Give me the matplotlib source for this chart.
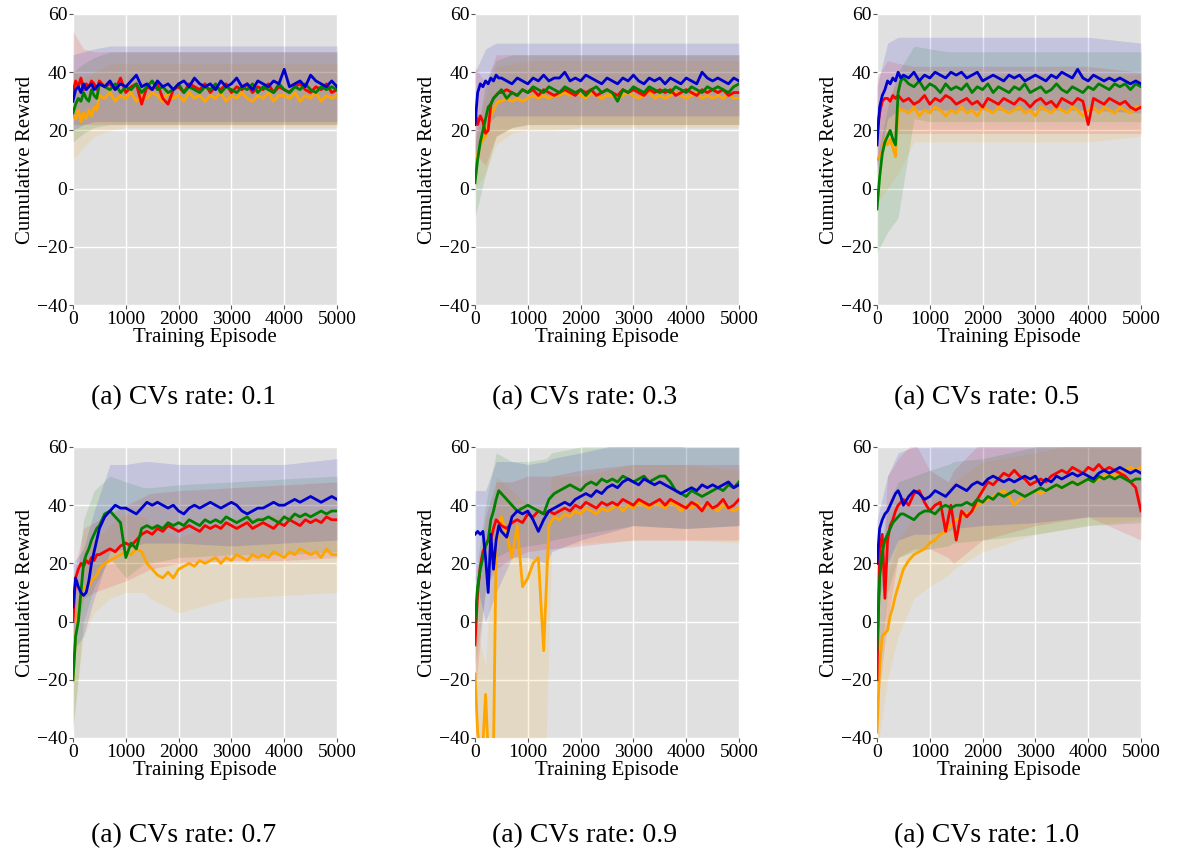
import matplotlib
matplotlib.use("Agg")
import matplotlib.pyplot as plt

plt.rcParams['font.family'] = ['Liberation Serif', 'DejaVu Serif']

# x positions of the smoothed curves and of the raw-reward envelopes
EPISODES = list(range(0, 501, 50)) + list(range(600, 5001, 100))
BAND_X = [0, 200, 400, 700, 1000, 1350, 1450, 2000, 3000, 4000, 5000]

COLORS = ['orange', 'red', 'green', 'mediumblue']
CAPTIONS = ['(a) CVs rate: 0.1', '(a) CVs rate: 0.3', '(a) CVs rate: 0.5',
            '(a) CVs rate: 0.7', '(a) CVs rate: 0.9', '(a) CVs rate: 1.0']

# ---- CVs rate 0.1
r01_orange = [25, 24, 27, 23, 26, 24, 27, 25, 28, 27, 32,
              31, 33, 30, 32, 31, 33, 30, 32, 31, 33,
              32, 30, 33, 31, 32, 30, 33, 31, 32, 30,
              32, 31, 33, 30, 32, 31, 33, 31, 30, 32,
              31, 33, 30, 32, 32, 31, 33, 30, 32, 31,
              33, 30, 32, 31, 32]
r01_red = [33, 37, 35, 38, 34, 36, 35, 37, 36, 34, 37,
           35, 36, 34, 38, 33, 35, 36, 29, 35, 34,
           36, 31, 29, 34, 35, 33, 36, 35, 34, 36,
           33, 35, 34, 36, 33, 35, 34, 36, 33, 35,
           34, 36, 33, 35, 34, 33, 35, 36, 34, 33,
           35, 34, 36, 33, 34]
r01_green = [26, 29, 31, 30, 33, 31, 30, 34, 32, 31, 36,
             35, 34, 36, 33, 35, 34, 36, 33, 35, 37,
             34, 35, 33, 34, 36, 33, 35, 34, 33, 35,
             34, 36, 33, 35, 34, 33, 35, 34, 36, 33,
             35, 34, 33, 36, 34, 33, 35, 34, 36, 34,
             33, 35, 34, 35, 34]
r01_blue = [30, 34, 35, 33, 36, 34, 35, 36, 34, 35, 36,
            35, 37, 34, 36, 35, 37, 39, 35, 36, 34,
            37, 35, 36, 34, 36, 37, 35, 38, 36, 35,
            36, 34, 37, 35, 36, 38, 35, 36, 34, 37,
            36, 35, 37, 36, 41, 35, 36, 37, 35, 39,
            37, 36, 35, 37, 35]
r01_lo = [[10, 14, 18, 20, 21, 21, 21, 21, 21, 21, 21],
          [22, 22, 22, 22, 22, 22, 22, 22, 22, 22, 22],
          [16, 19, 21, 22, 22, 22, 22, 22, 22, 22, 22],
          [20, 22, 23, 23, 23, 23, 23, 23, 23, 23, 23]]
r01_hi = [[40, 38, 40, 43, 43, 43, 43, 43, 43, 43, 43],
          [54, 48, 47, 47, 47, 47, 47, 47, 47, 47, 47],
          [40, 43, 45, 47, 47, 47, 47, 47, 47, 47, 47],
          [46, 47, 48, 49, 49, 49, 49, 49, 49, 49, 49]]

# ---- CVs rate 0.3
r03_orange = [5, 12, 15, 17, 18, 22, 25, 27, 29, 30, 30,
              31, 30, 31, 30, 31, 32, 31, 32, 31, 32,
              32, 33, 32, 33, 32, 31, 33, 32, 31, 32,
              32, 31, 32, 33, 32, 31, 32, 33, 31, 32,
              31, 32, 33, 32, 31, 32, 33, 31, 32, 31,
              32, 31, 33, 31, 31]
r03_red = [27, 22, 25, 23, 19, 20, 29, 31, 32, 33, 33,
           34, 33, 32, 34, 33, 34, 32, 34, 33, 32,
           33, 34, 33, 32, 34, 33, 34, 32, 33, 34,
           33, 32, 34, 33, 34, 33, 32, 34, 33, 34,
           33, 34, 32, 33, 34, 33, 32, 34, 33, 34,
           33, 34, 32, 33, 33]
r03_green = [2, 10, 16, 20, 24, 28, 29, 31, 32, 33, 34,
             31, 33, 32, 34, 33, 35, 34, 33, 35, 34,
             33, 35, 34, 33, 34, 32, 34, 35, 33, 34,
             33, 30, 34, 33, 35, 34, 33, 35, 34, 33,
             34, 33, 35, 34, 33, 35, 34, 33, 35, 34,
             35, 34, 33, 35, 36]
r03_blue = [22, 33, 36, 35, 37, 36, 38, 37, 39, 38, 38,
            37, 36, 38, 37, 36, 38, 37, 39, 37, 38,
            38, 40, 37, 38, 37, 39, 38, 37, 36, 38,
            37, 36, 38, 37, 39, 37, 36, 38, 37, 38,
            36, 38, 37, 36, 38, 37, 36, 40, 38, 37,
            38, 37, 36, 38, 37]
r03_lo = [[0, 5, 15, 19, 20, 20, 20, 21, 21, 21, 21],
          [12, 8, 18, 21, 22, 22, 22, 22, 22, 22, 22],
          [-10, 5, 18, 21, 22, 22, 22, 22, 22, 22, 22],
          [10, 22, 25, 25, 25, 25, 25, 25, 25, 25, 25]]
r03_hi = [[18, 32, 42, 43, 44, 44, 44, 44, 44, 44, 44],
          [42, 36, 46, 46, 46, 46, 46, 46, 46, 46, 46],
          [15, 36, 44, 46, 46, 46, 46, 46, 46, 46, 46],
          [40, 48, 50, 50, 50, 50, 50, 50, 50, 50, 50]]

# ---- CVs rate 0.5
r05_orange = [10, 11, 13, 17, 15, 17, 14, 11, 28, 27, 27,
              26, 28, 25, 27, 26, 28, 27, 25, 27, 26,
              28, 26, 27, 25, 28, 27, 26, 28, 27, 26,
              27, 28, 26, 27, 25, 28, 27, 26, 28, 27,
              26, 28, 27, 25, 27, 28, 26, 28, 27, 26,
              28, 27, 26, 28, 28]
r05_red = [20, 26, 30, 31, 31, 30, 32, 31, 32, 31, 30,
           31, 29, 30, 32, 29, 31, 30, 32, 31, 29,
           30, 31, 29, 30, 28, 31, 30, 29, 31, 30,
           29, 31, 30, 28, 30, 31, 29, 30, 28, 31,
           30, 29, 31, 30, 22, 31, 30, 29, 31, 30,
           29, 30, 28, 27, 28]
r05_green = [-7, 4, 12, 16, 18, 20, 17, 15, 33, 37, 38,
             36, 35, 37, 34, 36, 35, 33, 36, 34, 35,
             34, 36, 33, 35, 34, 36, 33, 35, 34, 33,
             35, 34, 36, 33, 34, 35, 33, 34, 36, 34,
             33, 35, 34, 33, 35, 34, 36, 35, 34, 36,
             35, 36, 34, 36, 35]
r05_blue = [15, 28, 32, 34, 37, 36, 38, 37, 40, 38, 39,
            38, 40, 37, 39, 38, 40, 39, 38, 40, 39,
            40, 38, 39, 40, 37, 38, 39, 38, 37, 39,
            38, 39, 37, 38, 39, 38, 37, 39, 38, 40,
            39, 38, 41, 38, 37, 39, 38, 37, 38, 37,
            38, 37, 36, 37, 36]
r05_lo = [[-5, 0, 5, 16, 16, 16, 16, 16, 16, 16, 18],
          [8, 18, 19, 19, 19, 19, 19, 19, 19, 19, 19],
          [-22, -15, -10, 24, 23, 23, 23, 23, 23, 23, 23],
          [5, 24, 27, 27, 27, 27, 27, 27, 27, 27, 26]]
r05_hi = [[25, 30, 38, 39, 39, 39, 39, 39, 39, 39, 39],
          [38, 44, 43, 42, 42, 42, 42, 42, 42, 42, 40],
          [10, 28, 40, 49, 48, 47, 47, 47, 47, 47, 47],
          [35, 50, 52, 52, 52, 52, 52, 52, 52, 52, 50]]

# ---- CVs rate 0.7
r07_orange = [-20, -5, 5, 8, 12, 11, 12, 14, 15, 16, 18,
              20, 21, 22, 23, 24, 23, 25, 24, 20, 18,
              16, 15, 17, 15, 18, 19, 20, 19, 21, 20,
              21, 22, 20, 22, 21, 23, 22, 21, 23, 22,
              23, 22, 24, 23, 22, 24, 23, 25, 24, 23,
              24, 22, 25, 23, 23]
r07_red = [0, 15, 18, 20, 19, 21, 20, 22, 21, 23, 23,
           24, 25, 24, 26, 27, 26, 28, 30, 31, 30,
           32, 31, 33, 32, 31, 32, 33, 32, 31, 33,
           32, 33, 32, 34, 33, 32, 33, 34, 32, 33,
           34, 33, 32, 34, 33, 35, 34, 33, 35, 34,
           35, 34, 36, 35, 35]
r07_green = [-20, -5, 0, 10, 20, 23, 25, 28, 30, 32, 33,
             37, 38, 36, 34, 22, 27, 25, 32, 33, 32,
             33, 32, 34, 33, 34, 33, 35, 34, 33, 35,
             34, 35, 34, 36, 35, 34, 35, 36, 34, 35,
             35, 36, 35, 34, 36, 35, 37, 36, 37, 36,
             37, 38, 37, 38, 38]
r07_blue = [5, 15, 12, 10, 9, 10, 14, 20, 24, 28, 32,
            36, 38, 40, 39, 39, 38, 37, 39, 41, 40,
            41, 40, 39, 40, 38, 37, 39, 40, 39, 40,
            41, 40, 39, 40, 41, 40, 38, 37, 38, 39,
            39, 40, 41, 40, 40, 41, 42, 41, 42, 43,
            42, 41, 42, 43, 42]
r07_lo = [[-35, -5, 3, 8, 10, 10, 8, 3, 8, 9, 10],
          [-10, 8, 10, 12, 14, 17, 18, 20, 21, 21, 22],
          [-38, 0, 12, 22, 15, 20, 20, 22, 23, 23, 24],
          [-10, -5, 8, 24, 25, 27, 27, 27, 26, 27, 28]]
r07_hi = [[-5, 25, 28, 33, 37, 36, 34, 29, 35, 37, 37],
          [15, 32, 34, 37, 40, 43, 44, 45, 46, 47, 48],
          [0, 35, 45, 50, 48, 46, 46, 47, 48, 49, 50],
          [20, 25, 38, 54, 54, 55, 55, 54, 54, 54, 56]]

# ---- CVs rate 0.9
r09_orange = [-18, -38, -45, -42, -25, -45, -45, -45, 25, 33, 36,
              30, 22, 33, 12, 15, 20, 22, -10, 33, 36,
              35, 37, 36, 38, 37, 39, 38, 37, 39, 38,
              39, 40, 38, 40, 39, 41, 40, 39, 41, 40,
              39, 41, 40, 38, 40, 39, 41, 38, 40, 39,
              38, 40, 39, 38, 39]
r09_red = [-8, 10, 19, 24, 26, 28, 28, 32, 35, 34, 33,
           32, 34, 35, 34, 37, 36, 38, 37, 38, 37,
           38, 39, 38, 40, 39, 41, 40, 39, 41, 40,
           41, 40, 42, 41, 40, 42, 41, 40, 41, 42,
           40, 42, 41, 40, 39, 41, 40, 38, 41, 39,
           40, 42, 39, 40, 42]
r09_green = [0, 12, 18, 22, 26, 28, 35, 38, 42, 45, 44,
             42, 40, 38, 39, 40, 39, 38, 37, 42, 44,
             45, 46, 47, 46, 45, 47, 48, 47, 49, 48,
             49, 48, 50, 49, 48, 49, 50, 48, 49, 50,
             50, 48, 45, 44, 43, 45, 44, 43, 44, 45,
             46, 45, 47, 46, 48]
r09_blue = [30, 31, 30, 31, 22, 10, 30, 18, 28, 33, 31,
            29, 36, 38, 37, 38, 35, 31, 35, 38, 39,
            40, 41, 40, 42, 43, 44, 43, 45, 44, 46,
            47, 46, 48, 49, 48, 47, 49, 48, 47, 48,
            47, 46, 45, 44, 45, 46, 45, 47, 46, 47,
            46, 47, 48, 46, 47]
r09_lo = [[-40, -40, -40, -40, -40, -40, 25, 27, 28, 28, 27],
          [-25, 12, 18, 22, 24, 25, 25, 26, 28, 28, 28],
          [-15, 10, 22, 25, 26, 27, 28, 30, 33, 32, 33],
          [15, 0, 10, 22, 22, 20, 24, 28, 33, 32, 33]]
r09_hi = [[0, -15, 50, 45, 40, 35, 50, 50, 54, 54, 52],
          [10, 36, 48, 48, 50, 50, 50, 52, 54, 54, 54],
          [15, 40, 58, 55, 55, 56, 58, 60, 62, 60, 60],
          [45, 45, 55, 55, 54, 55, 56, 58, 62, 60, 60]]

# ---- CVs rate 1.0
r10_orange = [-38, -15, -5, -4, -3, 2, 5, 9, 12, 15, 18,
              21, 23, 24, 25, 27, 28, 30, 31, 33, 35,
              36, 37, 38, 40, 41, 42, 43, 44, 45, 43,
              40, 42, 43, 44, 45, 44, 45, 46, 47, 46,
              47, 48, 47, 48, 49, 48, 49, 50, 51, 50,
              51, 52, 53, 52, 53]
r10_red = [-20, 25, 30, 8, 28, 33, 35, 38, 40, 41, 42,
           40, 44, 45, 41, 38, 40, 41, 31, 40, 28,
           38, 36, 38, 42, 45, 48, 47, 49, 51, 50,
           52, 50, 49, 47, 48, 49, 48, 50, 51, 52,
           51, 53, 52, 51, 53, 52, 54, 52, 53, 52,
           51, 50, 48, 46, 38]
r10_green = [-10, 15, 24, 28, 30, 32, 34, 35, 36, 37, 37,
             36, 35, 37, 38, 38, 37, 39, 40, 39, 40,
             40, 41, 40, 42, 41, 43, 42, 44, 43, 44,
             45, 44, 43, 44, 45, 46, 45, 46, 47, 46,
             47, 48, 47, 48, 49, 48, 50, 49, 50, 49,
             50, 49, 48, 49, 49]
r10_blue = [20, 32, 35, 37, 38, 40, 42, 44, 45, 43, 40,
            43, 45, 44, 42, 43, 45, 44, 43, 45, 47,
            46, 45, 47, 48, 47, 49, 50, 49, 48, 49,
            48, 49, 50, 49, 50, 47, 49, 48, 50, 49,
            50, 51, 50, 51, 50, 49, 51, 52, 51, 52,
            53, 52, 51, 52, 51]
r10_lo = [[-45, -20, -5, 8, 12, 16, 18, 24, 30, 33, 35],
          [-30, 0, 22, 25, 25, 22, 20, 28, 33, 36, 28],
          [-25, 10, 22, 24, 25, 26, 27, 28, 30, 33, 34],
          [5, 20, 28, 30, 30, 31, 32, 33, 34, 36, 36]]
r10_hi = [[-25, 15, 28, 36, 40, 46, 48, 55, 58, 62, 66],
          [-5, 50, 56, 62, 52, 48, 52, 62, 66, 68, 60],
          [5, 40, 48, 50, 52, 54, 55, 56, 60, 64, 64],
          [35, 50, 58, 60, 60, 61, 62, 64, 66, 66, 66]]

panels = [
    ([r01_orange, r01_red, r01_green, r01_blue], r01_lo, r01_hi),
    ([r03_orange, r03_red, r03_green, r03_blue], r03_lo, r03_hi),
    ([r05_orange, r05_red, r05_green, r05_blue], r05_lo, r05_hi),
    ([r07_orange, r07_red, r07_green, r07_blue], r07_lo, r07_hi),
    ([r09_orange, r09_red, r09_green, r09_blue], r09_lo, r09_hi),
    ([r10_orange, r10_red, r10_green, r10_blue], r10_lo, r10_hi),
]

W, H = 1177, 851
fig = plt.figure(figsize=(W / 100, H / 100), dpi=100)

lefts = [73, 475, 877]
tops = [14, 447]
aw, ah = 264, 291
cap_x = [184, 585, 987]
cap_y = [398, 836]

for i, (series, los, his) in enumerate(panels):
    row, col = divmod(i, 3)
    ax = fig.add_axes([lefts[col] / W, 1 - (tops[row] + ah) / H, aw / W, ah / H])
    ax.set_facecolor('#e0e0e0')
    for s in ax.spines.values():
        s.set_visible(False)
    ax.grid(True, color='white', lw=1.0)
    ax.set_axisbelow(True)

    # faint raw-reward envelopes first, then the smoothed curves
    for c, lo, hi in zip(COLORS, los, his):
        ax.fill_between(BAND_X, lo, hi, color=c, alpha=0.12, lw=0)
    for c, vals in zip(COLORS, series):
        assert len(vals) == len(EPISODES)
        ax.plot(EPISODES, vals, color=c, lw=2.0)

    ax.set_xlim(0, 5000)
    ax.set_ylim(-40, 60)
    ax.set_xticks(range(0, 5001, 1000))
    ax.set_yticks(range(-40, 61, 20))
    ax.tick_params(labelsize=14, length=3, width=0.8, color='#555555', pad=1)
    ax.set_xlabel('Training Episode', fontsize=15, labelpad=0)
    ax.set_ylabel('Cumulative Reward', fontsize=15, labelpad=1)

    fig.text(cap_x[col] / W, 1 - cap_y[row] / H, CAPTIONS[i],
             fontsize=20, ha='center', va='center')

fig.savefig('out.png', dpi=100)
